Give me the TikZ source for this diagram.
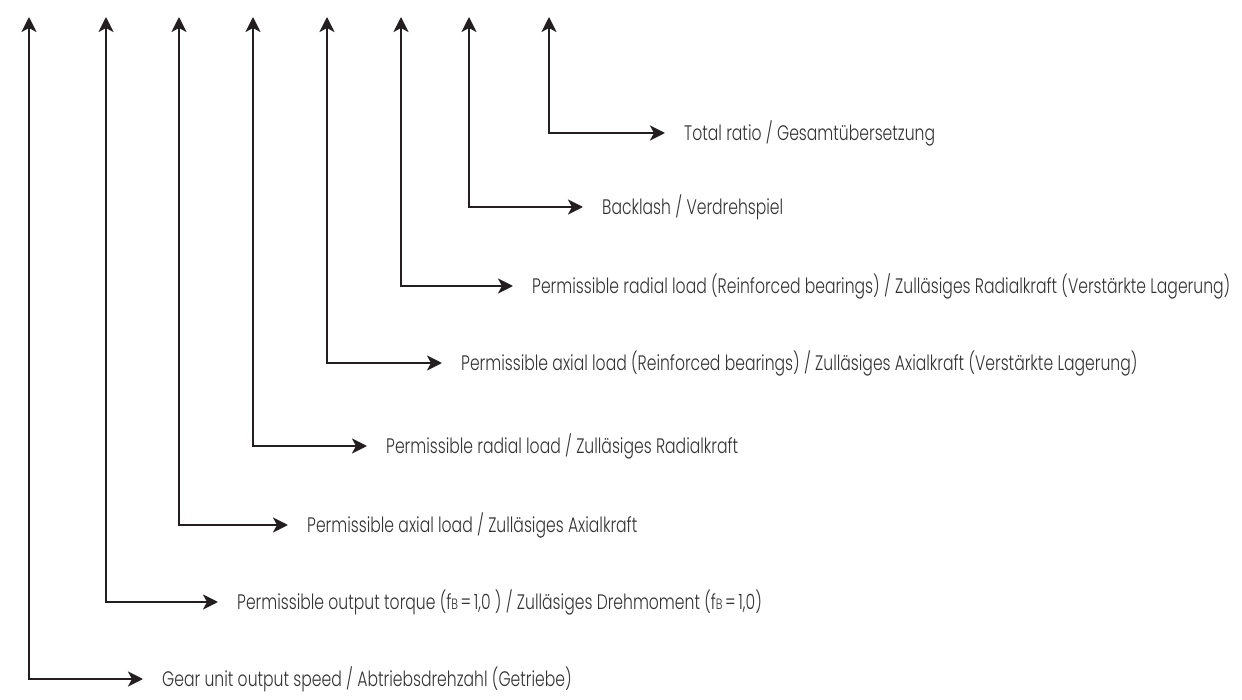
\documentclass[tikz,border=0pt]{standalone}
\usepackage{fontspec}
\setmainfont{Poppins}[UprightFont={* Light}]
\usetikzlibrary{arrows.meta}
\definecolor{linec}{HTML}{231F20}
\definecolor{textc}{HTML}{333333}
\newlength{\reflen}
\settowidth{\reflen}{\fontsize{21pt}{23pt}\selectfont Permissible radial load (Reinforced bearings) / Zullässiges Radialkraft (Verstärkte Lagerung)}
\pgfmathsetmacro{\sxfac}{706/(\reflen/1pt)}
\newcommand{\lbltxt}[1]{\scalebox{\sxfac}[1]{#1}}
\newcommand{\fbsub}{f{\fontsize{15pt}{15pt}\selectfont B}}
\tikzset{
  conn/.style={draw=linec, line width=2.4pt, -{Stealth[length=15pt,width=15pt,inset=4pt]}},
  lbl/.style={anchor=west, inner xsep=19pt, inner ysep=0pt, text=textc, font=\fontsize{21pt}{23pt}\selectfont},
}
\begin{document}
\begin{tikzpicture}[x=1pt,y=-1pt]
\useasboundingbox (0,0) rectangle (1242,700);
% corners
\coordinate (c1) at (29,679);
\coordinate (c2) at (106,602);
\coordinate (c3) at (179,525);
\coordinate (c4) at (253,446);
\coordinate (c5) at (327,363);
\coordinate (c6) at (401,286);
\coordinate (c7) at (469,207);
\coordinate (c8) at (549,133);
% top tips
\coordinate (t1) at (29,17);
\coordinate (t2) at (106,17);
\coordinate (t3) at (179,17);
\coordinate (t4) at (253,17);
\coordinate (t5) at (327,17);
\coordinate (t6) at (401,17);
\coordinate (t7) at (469,17);
\coordinate (t8) at (549,17);
% labels
\node[lbl] (l1) at (143,679) {\lbltxt{Gear unit output speed / Abtriebsdrehzahl (Getriebe)}};
\node[lbl] (l2) at (218,602) {\lbltxt{Permissible output torque (\fbsub\,=\,1,0 ) / Zulläsiges Drehmoment (\fbsub\,=\,1,0)}};
\node[lbl] (l3) at (288,525) {\lbltxt{Permissible axial load / Zulläsiges Axialkraft}};
\node[lbl] (l4) at (367,446) {\lbltxt{Permissible radial load / Zulläsiges Radialkraft}};
\node[lbl] (l5) at (442,363) {\lbltxt{Permissible axial load (Reinforced bearings) / Zulläsiges Axialkraft (Verstärkte Lagerung)}};
\node[lbl] (l6) at (513,286) {\lbltxt{Permissible radial load (Reinforced bearings) / Zulläsiges Radialkraft (Verstärkte Lagerung)}};
\node[lbl] (l7) at (583,207) {\lbltxt{Backlash / Verdrehspiel}};
\node[lbl] (l8) at (665,133) {\lbltxt{Total ratio / Gesamtübersetzung}};
% connectors
\foreach \i in {1,...,8}{
  \draw[conn] (c\i) -- (t\i);
  \draw[conn] ([xshift=-1.2pt]c\i) -- (l\i.west);
}
\end{tikzpicture}
\end{document}
